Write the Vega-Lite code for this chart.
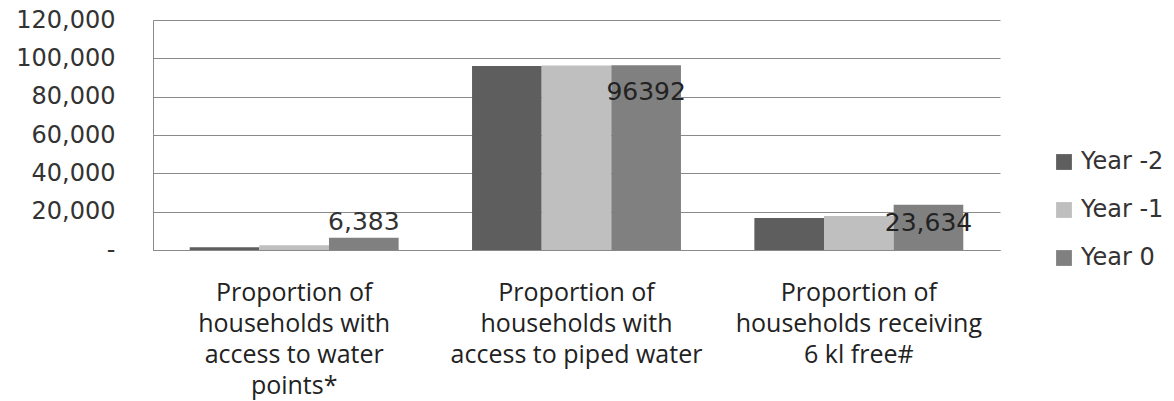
{
  "$schema": "https://vega.github.io/schema/vega-lite/v6.json",
  "autosize": "none",
  "width": 847,
  "height": 230,
  "padding": {"left": 153, "top": 20, "right": 174, "bottom": 151},
  "background": "#ffffff",
  "config": {"view": {"stroke": null}},
  "data": {
    "values": [
      {"cat": "Proportion of|households with|access to water|points*", "year": "Year -2", "value": 1500, "label": ""},
      {"cat": "Proportion of|households with|access to water|points*", "year": "Year -1", "value": 2500, "label": ""},
      {"cat": "Proportion of|households with|access to water|points*", "year": "Year 0", "value": 6383, "label": "6,383"},
      {"cat": "Proportion of|households with|access to piped water", "year": "Year -2", "value": 96000, "label": ""},
      {"cat": "Proportion of|households with|access to piped water", "year": "Year -1", "value": 96200, "label": ""},
      {"cat": "Proportion of|households with|access to piped water", "year": "Year 0", "value": 96392, "label": "96392"},
      {"cat": "Proportion of|households receiving|6 kl free#", "year": "Year -2", "value": 16700, "label": ""},
      {"cat": "Proportion of|households receiving|6 kl free#", "year": "Year -1", "value": 17700, "label": ""},
      {"cat": "Proportion of|households receiving|6 kl free#", "year": "Year 0", "value": 23634, "label": "23,634"}
    ]
  },
  "encoding": {
    "x": {
      "field": "cat", "type": "nominal", "sort": null,
      "scale": {"paddingInner": 0.26, "paddingOuter": 0.13},
      "axis": {
        "title": null, "labelAngle": 0, "ticks": false, "domain": true, "domainColor": "#8a8a8a",
        "labelExpr": "split(datum.label, '|')",
        "labelFont": "Open Sans", "labelFontSize": 25, "labelLineHeight": 31,
        "labelColor": "#222222", "labelPadding": 30, "labelLimit": 0, "labelBaseline": "top"
      }
    },
    "xOffset": {"field": "year", "type": "nominal", "sort": ["Year -2", "Year -1", "Year 0"]},
    "y": {
      "field": "value", "type": "quantitative",
      "scale": {"domain": [0, 120000], "nice": false},
      "axis": {
        "title": null, "values": [0, 20000, 40000, 60000, 80000, 100000, 120000],
        "labelExpr": "datum.value == 0 ? '-' : format(datum.value, ',')",
        "labelFont": "DejaVu Sans", "labelFontSize": 24, "labelColor": "#333333",
        "labelPadding": 38, "ticks": false, "domain": true, "domainColor": "#8a8a8a",
        "grid": true, "gridColor": "#8a8a8a", "gridWidth": 1.2
      }
    }
  },
  "layer": [
    {
      "mark": {"type": "bar"},
      "encoding": {
        "color": {
          "field": "year", "type": "nominal", "sort": ["Year -2", "Year -1", "Year 0"],
          "scale": {"domain": ["Year -2", "Year -1", "Year 0"], "range": ["#5e5e5e", "#bfbfbf", "#808080"]},
          "legend": {
            "title": null, "orient": "none", "legendX": 899, "legendY": 130,
            "symbolType": "square", "symbolSize": 250, "symbolStrokeWidth": 0,
            "labelFont": "DejaVu Sans", "labelFontSize": 24, "labelColor": "#333333",
            "rowPadding": 24, "labelOffset": 5
          }
        }
      }
    },
    {
      "transform": [{"filter": "datum.label != '' && indexof(datum.cat, 'points') >= 0"}],
      "mark": {"type": "text", "baseline": "bottom", "dy": -3, "font": "DejaVu Sans", "fontSize": 25, "color": "#333333"},
      "encoding": {"text": {"field": "label"}}
    },
    {
      "transform": [{"filter": "datum.label != '' && indexof(datum.cat, 'piped') >= 0"}],
      "mark": {"type": "text", "baseline": "middle", "dy": 27, "font": "DejaVu Sans", "fontSize": 25, "color": "#222222"},
      "encoding": {"text": {"field": "label"}}
    },
    {
      "transform": [{"filter": "datum.label != '' && indexof(datum.cat, 'free') >= 0"}],
      "mark": {"type": "text", "baseline": "middle", "dy": 18, "font": "DejaVu Sans", "fontSize": 25, "color": "#222222"},
      "encoding": {"text": {"field": "label"}}
    }
  ]
}
